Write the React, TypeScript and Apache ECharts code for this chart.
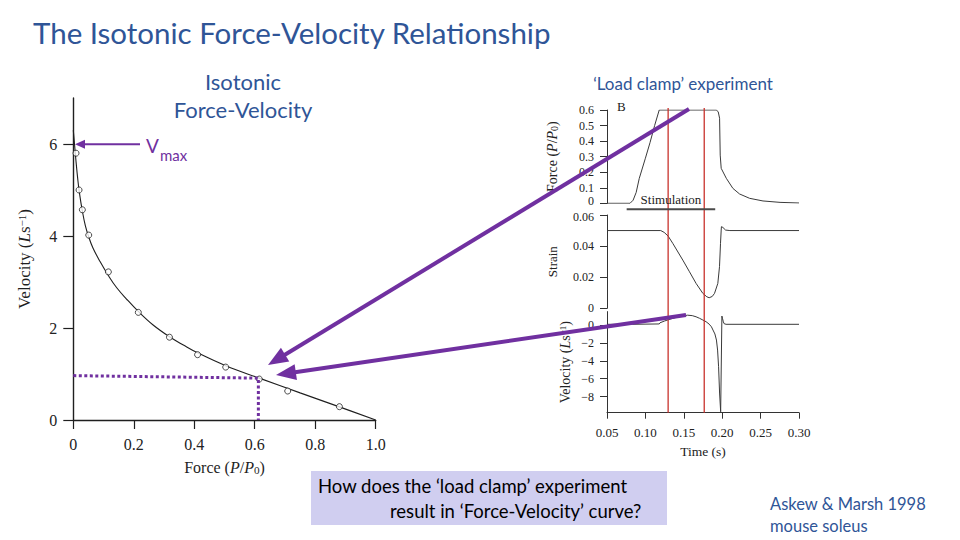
import React, { useEffect, useRef } from "react";
import * as echarts from "echarts";

// ---- Isotonic force–velocity relation (relative force P/P0, velocity L/s) ----
const FIT_FORCE = [0, 0.004, 0.009, 0.015, 0.02, 0.03, 0.04, 0.051, 0.065, 0.088, 0.116, 0.143, 0.176, 0.215, 0.265, 0.318, 0.364, 0.411, 0.504, 0.615, 0.75, 0.88, 1.0];
const FIT_VEL = [6.3, 6.0, 5.62, 5.22, 4.95, 4.54, 4.22, 3.98, 3.74, 3.45, 3.14, 2.88, 2.63, 2.36, 2.06, 1.81, 1.63, 1.46, 1.18, 0.91, 0.59, 0.285, 0];

const OBS_FORCE = [0.009, 0.019, 0.03, 0.051, 0.116, 0.215, 0.318, 0.411, 0.504, 0.615, 0.709, 0.88];
const OBS_VEL = [5.8, 5.0, 4.57, 4.02, 3.22, 2.34, 1.8, 1.42, 1.15, 0.89, 0.63, 0.29];

// dotted read-out of the clamped load and its shortening velocity
const READOUT_FORCE = [0, 0.612, 0.612];
const READOUT_VEL = [0.965, 0.91, 0];

const FV_X_TICKS = [0, 0.2, 0.4, 0.6, 0.8, 1.0];
const FV_Y_TICKS = [0, 2, 4, 6];

// ---- Load clamp recordings (time in s) ----
const FORCE_T = [0.05, 0.08, 0.084, 0.088, 0.092, 0.1, 0.106, 0.112, 0.118, 0.1922, 0.1948, 0.1966, 0.1974, 0.1987, 0.2053, 0.2139, 0.2226, 0.2357, 0.2531, 0.2753, 0.3];
const FORCE_P = [0, 0, 0.02, 0.07, 0.16, 0.29, 0.39, 0.5, 0.6, 0.6, 0.589, 0.547, 0.31, 0.225, 0.161, 0.096, 0.06, 0.032, 0.015, 0.006, 0.002];

const STRAIN_T = [0.05, 0.12, 0.1245, 0.1295, 0.1356, 0.1487, 0.1574, 0.166, 0.1748, 0.18, 0.183, 0.187, 0.19, 0.1943, 0.1965, 0.1978, 0.1987, 0.199, 0.2009, 0.2044, 0.21, 0.3];
const STRAIN_S = [0.05, 0.05, 0.0488, 0.0465, 0.0418, 0.031, 0.0235, 0.016, 0.0096, 0.0074, 0.0068, 0.0076, 0.0096, 0.016, 0.0268, 0.0418, 0.0503, 0.0525, 0.052, 0.0503, 0.05, 0.05];

const VEL_T = [0.05, 0.083, 0.0835, 0.118, 0.119, 0.125, 0.132, 0.14, 0.148, 0.155, 0.161, 0.166, 0.1705, 0.1748, 0.179, 0.183, 0.186, 0.188, 0.1905, 0.1925, 0.194, 0.1953, 0.1966, 0.198, 0.1988, 0.1996, 0.2005, 0.2015, 0.2025, 0.205, 0.3];
const VEL_V = [0.08, 0.08, 0.12, 0.12, 0.25, 0.45, 0.65, 0.85, 1.02, 1.1, 1.05, 0.92, 0.75, 0.56, 0.37, 0.1, -0.2, -0.56, -1.0, -1.68, -2.8, -4.66, -7.6, -9.7, -9.7, 1.0, 0.7, 0.35, 0.15, 0.08, 0.08];

const CLAMP_TIMES = [0.1296, 0.1766];
const STIM_START = 0.0756;
const STIM_END = 0.1909;

const FORCE_TICKS = [0, 0.1, 0.2, 0.3, 0.4, 0.5, 0.6];
const STRAIN_TICKS = [0, 0.02, 0.04, 0.06];
const VEL_TICKS = [-8, -6, -4, -2, 0];
const TIME_TICKS = [0.05, 0.1, 0.15, 0.2, 0.25, 0.3];

const BLUE = "#2F5597";
const PURPLE = "#7030A0";
const RED = "#C8322C";
const INK = "#1f1f1f";
const TRACE = "#3a3a3a";
const SERIF = "'Liberation Serif', 'Times New Roman', serif";
const SANS = "Lato, 'Open Sans', sans-serif";

const pairs = (xs: number[], ys: number[]) => xs.map((x, i) => [x, ys[i]]);

const minusFmt = (v: number) => (v < 0 ? "\u2212" + Math.abs(v) : String(v));

// the stacked panels' neighbouring end labels get nudged apart a little
const TICK_RICH = {
  up: { fontFamily: SERIF, fontSize: 12, color: "#222", padding: [0, 0, 4, 0] },
  dn: { fontFamily: SERIF, fontSize: 12, color: "#222", padding: [4, 0, 0, 0] },
};
const forceFmt = (v: number) => (v === 0 ? "{up|0}" : v.toFixed(1));
const strainFmt = (v: number) => (v === 0 ? "0" : v === 0.06 ? "{dn|0.06}" : v.toFixed(2));

function text(x: number, y: number, str: string, size: number, color: string, align = "left", family = SANS, z = 50) {
  return {
    type: "text",
    x,
    y,
    z,
    style: {
      text: str,
      fill: color,
      fontSize: size,
      fontFamily: family,
      align,
      textAlign: align,
      verticalAlign: "middle",
      textVerticalAlign: "middle",
    },
  };
}

function arrow(x1: number, y1: number, x2: number, y2: number, w: number, hl: number, hw: number, color: string, z = 100) {
  const dx = x2 - x1;
  const dy = y2 - y1;
  const L = Math.hypot(dx, dy);
  const ux = dx / L;
  const uy = dy / L;
  const bx = x2 - ux * hl;
  const by = y2 - uy * hl;
  const px = -uy;
  const py = ux;
  return [
    {
      type: "line",
      z,
      shape: { x1, y1, x2: x2 - ux * hl * 0.7, y2: y2 - uy * hl * 0.7 },
      style: { stroke: color, lineWidth: w },
    },
    {
      type: "polygon",
      z,
      shape: { points: [[x2, y2], [bx + px * hw, by + py * hw], [bx - px * hw, by - py * hw]] },
      style: { fill: color },
    },
  ];
}

function rightY(gridIndex: number, min: number, max: number, ticks: number[], fmt: (v: number) => string, name: string, nameGap: number, nameSize: number) {
  return {
    type: "value",
    gridIndex,
    min,
    max,
    splitLine: { show: false },
    axisLine: { show: true, onZero: false, lineStyle: { color: "#333", width: 1 } },
    axisTick: { show: true, inside: false, length: 7, customValues: ticks, lineStyle: { color: "#333" } },
    axisLabel: { customValues: ticks, formatter: fmt, margin: 13, fontSize: 12, fontFamily: SERIF, color: "#222", rich: TICK_RICH },
    name,
    nameLocation: "middle",
    nameGap,
    nameRotate: 90,
    nameTextStyle: {
      fontFamily: SERIF,
      fontSize: nameSize,
      color: "#222",
      rich: {
        i: { fontFamily: SERIF, fontSize: nameSize, fontStyle: "italic", color: "#222" },
        sup: { fontFamily: SERIF, fontSize: nameSize * 0.65, verticalAlign: "top", color: "#222" },
        sub: { fontFamily: SERIF, fontSize: nameSize * 0.7, verticalAlign: "bottom", color: "#222" },
      },
    },
  };
}

function hiddenX(gridIndex: number) {
  return { type: "value", gridIndex, min: 0.05, max: 0.3, interval: 0.05, show: false };
}

export default function App() {
  const ref = useRef<HTMLDivElement>(null);

  useEffect(() => {
    document.body.style.margin = "0";
    if (!ref.current) return;
    const chart = echarts.init(ref.current, null, { renderer: "svg" });

    const fvNameRich = (size: number) => ({
      i: { fontFamily: SERIF, fontSize: size, fontStyle: "italic", color: INK },
      sup: { fontFamily: SERIF, fontSize: size * 0.65, verticalAlign: "top", color: INK },
      sub: { fontFamily: SERIF, fontSize: size * 0.7, verticalAlign: "bottom", color: INK },
    });

    const option: any = {
      animation: false,
      backgroundColor: "#ffffff",
      grid: [
        { left: 73.3, top: 98, width: 302.4, height: 322 },
        { left: 607, top: 110, width: 192, height: 93.3 },
        { left: 607, top: 215, width: 192, height: 93.3 },
        { left: 607, top: 311.6, width: 192, height: 101.1 },
        { left: 607, top: 108, width: 192, height: 304.7 },
      ],
      xAxis: [
        {
          type: "value",
          gridIndex: 0,
          min: 0,
          max: 1,
          interval: 0.2,
          splitLine: { show: false },
          axisLine: { onZero: false, lineStyle: { color: INK, width: 1.4 } },
          axisTick: { inside: false, length: 9, customValues: FV_X_TICKS, lineStyle: { color: INK, width: 1.2 } },
          axisLabel: {
            customValues: FV_X_TICKS,
            formatter: (v: number) => (v === 0 ? "0" : v.toFixed(1)),
            margin: 16,
            fontSize: 16,
            fontFamily: SERIF,
            color: "#222",
          },
          name: "Force ({i|P}/{i|P}{sub|0})",
          nameLocation: "middle",
          nameGap: 39,
          nameTextStyle: { fontFamily: SERIF, fontSize: 16, color: INK, rich: fvNameRich(16) },
        },
        hiddenX(1),
        hiddenX(2),
        {
          type: "value",
          gridIndex: 3,
          min: 0.05,
          max: 0.3,
          interval: 0.05,
          splitLine: { show: false },
          axisLine: { onZero: false, lineStyle: { color: "#333", width: 1 } },
          axisTick: { inside: false, length: 6, customValues: TIME_TICKS, lineStyle: { color: "#333" } },
          axisLabel: {
            customValues: TIME_TICKS,
            formatter: (v: number) => v.toFixed(2),
            margin: 13,
            fontSize: 13,
            fontFamily: SERIF,
            color: "#222",
          },
          name: "Time (s)",
          nameLocation: "middle",
          nameGap: 32,
          nameTextStyle: { fontFamily: SERIF, fontSize: 13.5, color: "#222" },
        },
        hiddenX(4),
      ],
      yAxis: [
        {
          type: "value",
          gridIndex: 0,
          min: 0,
          max: 7,
          interval: 2,
          splitLine: { show: false },
          axisLine: { onZero: false, lineStyle: { color: INK, width: 1.4 } },
          axisTick: { inside: false, length: 10, customValues: FV_Y_TICKS, lineStyle: { color: INK, width: 1.2 } },
          axisLabel: { customValues: FV_Y_TICKS, margin: 16, fontSize: 16, fontFamily: SERIF, color: "#222" },
          name: "Velocity ({i|L}s{sup|\u22121})",
          nameLocation: "middle",
          nameGap: 40,
          nameRotate: 90,
          nameTextStyle: { fontFamily: SERIF, fontSize: 17, color: INK, rich: fvNameRich(17) },
        },
        rightY(1, 0, 0.6, FORCE_TICKS, forceFmt, "Force ({i|P}/{i|P}{sub|0})", 48, 14),
        rightY(2, 0, 0.06, STRAIN_TICKS, strainFmt, "Strain", 48, 13),
        rightY(3, -9.8, 1.5, VEL_TICKS, minusFmt, "Velocity ({i|L}s{sup|\u22121})", 35, 14),
        { type: "value", gridIndex: 4, min: 0, max: 1, show: false },
      ],
      series: [
        {
          type: "line",
          xAxisIndex: 0,
          yAxisIndex: 0,
          data: pairs(FIT_FORCE, FIT_VEL),
          showSymbol: false,
          smooth: 0.4,
          lineStyle: { color: INK, width: 1.1 },
          z: 3,
        },
        {
          type: "scatter",
          xAxisIndex: 0,
          yAxisIndex: 0,
          data: pairs(OBS_FORCE, OBS_VEL),
          symbol: "circle",
          symbolSize: 6,
          itemStyle: { color: "#ffffff", borderColor: INK, borderWidth: 1 },
          z: 4,
        },
        {
          type: "line",
          xAxisIndex: 0,
          yAxisIndex: 0,
          data: pairs(READOUT_FORCE, READOUT_VEL),
          showSymbol: false,
          lineStyle: { color: PURPLE, width: 3, type: [3, 2.5] },
          z: 5,
        },
        {
          type: "line",
          xAxisIndex: 1,
          yAxisIndex: 1,
          data: pairs(FORCE_T, FORCE_P),
          showSymbol: false,
          lineStyle: { color: TRACE, width: 1 },
        },
        {
          type: "line",
          xAxisIndex: 2,
          yAxisIndex: 2,
          data: pairs(STRAIN_T, STRAIN_S),
          showSymbol: false,
          lineStyle: { color: TRACE, width: 1 },
        },
        {
          type: "line",
          xAxisIndex: 3,
          yAxisIndex: 3,
          data: pairs(VEL_T, VEL_V),
          showSymbol: false,
          lineStyle: { color: TRACE, width: 1 },
        },
        ...CLAMP_TIMES.map((t) => ({
          type: "line",
          xAxisIndex: 4,
          yAxisIndex: 4,
          data: [
            [t, 0],
            [t, 1],
          ],
          showSymbol: false,
          lineStyle: { color: RED, width: 1.3 },
          z: 6,
        })),
      ],
    };

    chart.setOption(option);

    // stimulation period bar, placed just below the zero-force line
    const sx1 = chart.convertToPixel({ xAxisIndex: 1 }, STIM_START) as number;
    const sx2 = chart.convertToPixel({ xAxisIndex: 1 }, STIM_END) as number;
    const f0 = chart.convertToPixel({ yAxisIndex: 1 }, 0) as number;
    const barY = f0 + 6;

    const elements: any[] = [
      text(33, 32, "The Isotonic Force-Velocity Relationship", 29.5, BLUE),
      text(243, 81, "Isotonic", 22, BLUE, "center"),
      text(243, 109.5, "Force-Velocity", 22, BLUE, "center"),
      text(683, 83, "\u2018Load clamp\u2019 experiment", 17, BLUE, "center"),
      text(146, 145, "V", 19, PURPLE),
      text(160, 155, "max", 15, PURPLE),
      ...arrow(140, 144.3, 75, 144.3, 2, 10, 4.5, PURPLE, 60),
      text(617, 106, "B", 13, "#222", "left", SERIF),
      {
        type: "rect",
        z: 40,
        shape: { x: 311, y: 471, width: 356, height: 54 },
        style: { fill: "#D0CEF0" },
      },
      text(318, 486, "How does the \u2018load clamp\u2019 experiment", 18.5, "#000"),
      text(390, 511, "result in \u2018Force-Velocity\u2019 curve?", 18.5, "#000"),
      text(770, 504, "Askew & Marsh 1998", 16.5, BLUE),
      text(770, 526, "mouse soleus", 16.5, BLUE),
      {
        type: "line",
        z: 20,
        shape: { x1: sx1, y1: barY, x2: sx2, y2: barY },
        style: { stroke: "#4a4a4a", lineWidth: 2 },
      },
      text((sx1 + sx2) / 2, barY - 10, "Stimulation", 13, "#222", "center", SERIF, 20),
      ...arrow(689, 109, 268, 365, 4, 20, 8, PURPLE, 100),
      ...arrow(686, 315, 276, 375, 4, 20, 8, PURPLE, 100),
    ];

    chart.setOption({ graphic: { elements } });

    return () => chart.dispose();
  }, []);

  return <div ref={ref} style={{ width: 960, height: 540, background: "#fff" }} />;
}
